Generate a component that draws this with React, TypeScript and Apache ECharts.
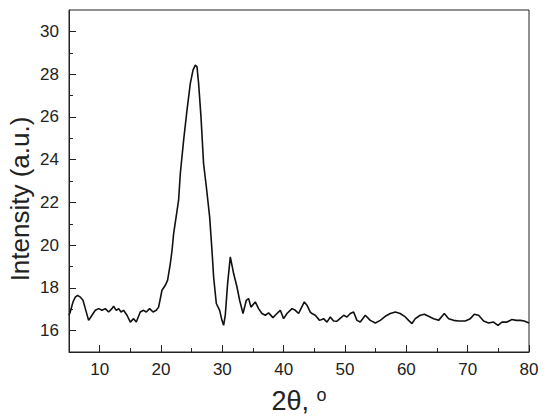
import React, { useEffect, useRef } from "react";
import * as echarts from "echarts";

const twoTheta = [
  5.0, 5.2, 5.65, 6.03, 6.4, 6.84, 7.28, 7.66, 8.2, 8.75, 9.29, 9.83, 10.38, 10.92, 11.46, 12.0, 12.27, 12.71,
  13.1, 13.48, 13.9, 14.46, 15.0, 15.53, 15.97, 16.62, 17.16, 17.6, 18.14, 18.7, 19.23, 19.61, 20.16, 20.7,
  21.08, 21.52, 21.8, 22.06, 22.87, 23.15, 23.69, 24.24, 24.78, 25.22, 25.59, 25.87, 26.13, 26.52, 26.94,
  27.39, 27.93, 28.31, 28.58, 29.02, 29.56, 29.94, 30.21, 30.48, 30.86, 31.3, 31.84, 32.39, 32.82, 33.37,
  33.91, 34.28, 34.67, 35.37, 35.91, 36.46, 37.0, 37.54, 38.26, 38.91, 39.45, 39.99, 40.54, 41.36, 41.9,
  42.44, 42.82, 43.36, 43.8, 44.34, 44.62, 45.16, 45.86, 46.51, 47.06, 47.6, 48.14, 48.69, 49.5, 49.77,
  50.32, 50.86, 51.4, 51.95, 52.49, 53.31, 54.12, 54.94, 55.75, 56.57, 57.38, 58.2, 59.0, 59.83, 60.37,
  60.92, 61.46, 62.27, 62.93, 63.63, 64.45, 65.26, 66.19, 66.9, 67.7, 68.52, 69.61, 70.43, 71.08, 71.78,
  72.6, 73.41, 74.22, 74.94, 75.59, 76.41, 77.22, 77.92, 78.57, 79.22, 80.0,
];

const intensity = [
  16.72, 16.87, 17.34, 17.57, 17.65, 17.57, 17.42, 17.03, 16.48, 16.72, 16.95, 17.03, 16.95, 17.03, 16.87,
  17.03, 17.14, 16.95, 17.03, 16.87, 16.95, 16.72, 16.4, 16.56, 16.4, 16.87, 16.95, 16.87, 17.03, 16.87,
  16.95, 17.1, 17.89, 18.12, 18.36, 19.14, 19.76, 20.54, 22.1, 23.35, 24.91, 26.32, 27.57, 28.19, 28.42,
  28.34, 27.57, 26.0, 23.82, 22.73, 21.32, 19.76, 18.51, 17.27, 16.95, 16.48, 16.25, 16.72, 18.2, 19.45,
  18.67, 18.04, 17.42, 16.8, 17.42, 17.5, 17.1, 17.34, 17.03, 16.8, 16.72, 16.83, 16.61, 16.8, 16.95,
  16.56, 16.8, 17.03, 16.95, 16.8, 17.03, 17.34, 17.19, 16.87, 16.8, 16.72, 16.48, 16.56, 16.4, 16.64,
  16.45, 16.44, 16.64, 16.72, 16.64, 16.8, 16.87, 16.48, 16.4, 16.72, 16.48, 16.36, 16.48, 16.67, 16.8,
  16.87, 16.8, 16.64, 16.48, 16.33, 16.56, 16.72, 16.77, 16.67, 16.56, 16.48, 16.8, 16.56, 16.48, 16.45,
  16.45, 16.56, 16.77, 16.72, 16.45, 16.36, 16.4, 16.25, 16.4, 16.4, 16.52, 16.48, 16.48, 16.45, 16.36,
];

const xMajorTicks = [10, 20, 30, 40, 50, 60, 70, 80];
const xMinorTicks = [15, 25, 35, 45, 55, 65, 75];
const yMajorTicks = [16, 18, 20, 22, 24, 26, 28, 30];
const yMinorTicks = [17, 19, 21, 23, 25, 27, 29];
const yTitle = "Intensity (a.u.)";

const FONT = "'Liberation Sans', Arial, sans-serif";
const INK = "#222";

export default function App() {
  const ref = useRef<HTMLDivElement>(null);

  useEffect(() => {
    if (!ref.current) return;
    const chart = echarts.init(ref.current, undefined, { renderer: "svg" });
    const data = twoTheta.map((x, i) => [x, intensity[i]]);

    const xCommon = {
      type: "value" as const,
      min: 5,
      max: 80,
      interval: 5,
      position: "bottom" as const,
      splitLine: { show: false },
    };
    const yCommon = {
      type: "value" as const,
      min: 15,
      max: 31,
      interval: 1,
      position: "left" as const,
      splitLine: { show: false },
    };

    chart.setOption({
      animation: false,
      backgroundColor: "#fff",
      grid: {
        left: 69,
        right: 21,
        top: 10,
        bottom: 68,
        show: true,
        borderColor: INK,
        borderWidth: 1,
      },
      graphic: [
        {
          type: "text",
          x: 20,
          y: 199,
          rotation: Math.PI / 2,
          style: {
            text: yTitle,
            fontSize: 26,
            fontFamily: FONT,
            fill: INK,
            align: "center",
            verticalAlign: "middle",
          },
        },
      ],
      xAxis: [
        {
          ...xCommon,
          axisLine: { show: true, onZero: false, lineStyle: { color: INK, width: 1 } },
          axisTick: { show: true, inside: true, length: 7, customValues: xMajorTicks, lineStyle: { color: INK } },
          axisLabel: {
            show: true,
            customValues: xMajorTicks,
            margin: 9,
            fontSize: 17,
            fontFamily: FONT,
            color: INK,
          },
          name: "{a|2θ, }{b|o}",
          nameLocation: "middle",
          nameGap: 34,
          nameTextStyle: {
            fontFamily: FONT,
            color: INK,
            rich: {
              a: { fontSize: 27, fontFamily: FONT, color: INK, lineHeight: 30 },
              b: { fontSize: 18, fontFamily: FONT, color: INK, verticalAlign: "top", lineHeight: 18 },
            },
          },
        },
        {
          ...xCommon,
          axisLine: { show: false, onZero: false },
          axisTick: { show: true, inside: true, length: 4, customValues: xMinorTicks, lineStyle: { color: INK } },
          axisLabel: { show: false },
        },
      ],
      yAxis: [
        {
          ...yCommon,
          axisLine: { show: true, onZero: false, lineStyle: { color: INK, width: 1 } },
          axisTick: { show: true, inside: true, length: 7, customValues: yMajorTicks, lineStyle: { color: INK } },
          axisLabel: {
            show: true,
            customValues: yMajorTicks,
            margin: 10,
            fontSize: 17,
            fontFamily: FONT,
            color: INK,
          },
        },
        {
          ...yCommon,
          axisLine: { show: false, onZero: false },
          axisTick: { show: true, inside: true, length: 4, customValues: yMinorTicks, lineStyle: { color: INK } },
          axisLabel: { show: false },
        },
      ],
      series: [
        {
          type: "line",
          xAxisIndex: 0,
          yAxisIndex: 0,
          data,
          showSymbol: false,
          symbol: "none",
          smooth: false,
          lineStyle: { color: "#111", width: 1.6 },
        },
      ],
    });

    return () => chart.dispose();
  }, []);

  return <div ref={ref} style={{ width: 550, height: 420, position: "absolute", left: 0, top: 0 }} />;
}
